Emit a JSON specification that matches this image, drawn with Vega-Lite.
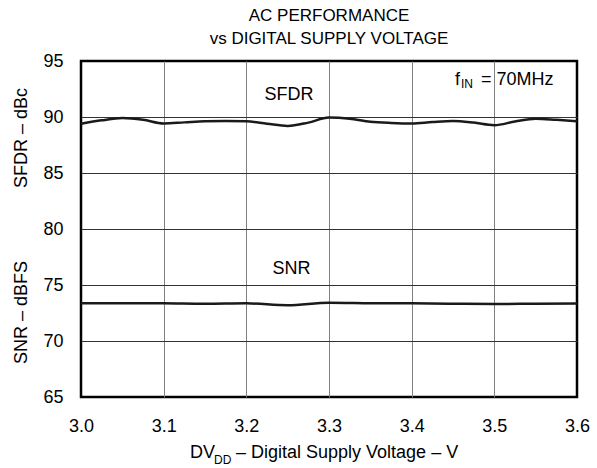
{
  "$schema": "https://vega.github.io/schema/vega-lite/v6.json",
  "autosize": "none",
  "width": 496,
  "height": 336,
  "padding": {"left": 81, "top": 61, "right": 20, "bottom": 71},
  "background": "white",
  "title": {
    "text": ["AC PERFORMANCE", "vs DIGITAL SUPPLY VOLTAGE"],
    "font": "Liberation Sans",
    "fontSize": 17,
    "fontWeight": "normal",
    "color": "black",
    "anchor": "middle",
    "lineHeight": 23,
    "offset": 4
  },
  "config": {
    "view": {"stroke": "black", "strokeWidth": 2.5},
    "axis": {
      "labelFont": "Liberation Sans",
      "labelFontSize": 18,
      "labelColor": "black",
      "labelFlush": false,
      "ticks": false,
      "domain": false,
      "grid": true,
      "title": null
    }
  },
  "datasets": {
    "curves": [
      {"series": "SFDR", "v": 3.000, "db": 89.40},
      {"series": "SFDR", "v": 3.025, "db": 89.70},
      {"series": "SFDR", "v": 3.050, "db": 89.90},
      {"series": "SFDR", "v": 3.075, "db": 89.75},
      {"series": "SFDR", "v": 3.100, "db": 89.42},
      {"series": "SFDR", "v": 3.125, "db": 89.52},
      {"series": "SFDR", "v": 3.150, "db": 89.62},
      {"series": "SFDR", "v": 3.175, "db": 89.64},
      {"series": "SFDR", "v": 3.200, "db": 89.62},
      {"series": "SFDR", "v": 3.225, "db": 89.40},
      {"series": "SFDR", "v": 3.250, "db": 89.20},
      {"series": "SFDR", "v": 3.275, "db": 89.50},
      {"series": "SFDR", "v": 3.300, "db": 89.95},
      {"series": "SFDR", "v": 3.325, "db": 89.85},
      {"series": "SFDR", "v": 3.350, "db": 89.58},
      {"series": "SFDR", "v": 3.375, "db": 89.47},
      {"series": "SFDR", "v": 3.400, "db": 89.42},
      {"series": "SFDR", "v": 3.425, "db": 89.55},
      {"series": "SFDR", "v": 3.450, "db": 89.64},
      {"series": "SFDR", "v": 3.475, "db": 89.50},
      {"series": "SFDR", "v": 3.500, "db": 89.27},
      {"series": "SFDR", "v": 3.525, "db": 89.60},
      {"series": "SFDR", "v": 3.550, "db": 89.85},
      {"series": "SFDR", "v": 3.575, "db": 89.75},
      {"series": "SFDR", "v": 3.600, "db": 89.62},
      {"series": "SNR", "v": 3.00, "db": 73.37},
      {"series": "SNR", "v": 3.05, "db": 73.37},
      {"series": "SNR", "v": 3.10, "db": 73.36},
      {"series": "SNR", "v": 3.15, "db": 73.32},
      {"series": "SNR", "v": 3.20, "db": 73.36},
      {"series": "SNR", "v": 3.25, "db": 73.20},
      {"series": "SNR", "v": 3.30, "db": 73.42},
      {"series": "SNR", "v": 3.35, "db": 73.38},
      {"series": "SNR", "v": 3.40, "db": 73.36},
      {"series": "SNR", "v": 3.45, "db": 73.33},
      {"series": "SNR", "v": 3.50, "db": 73.30},
      {"series": "SNR", "v": 3.55, "db": 73.33},
      {"series": "SNR", "v": 3.60, "db": 73.35}
    ],
    "seriesLabels": [
      {"label": "SFDR", "v": 3.2516, "db": 91.95},
      {"label": "SNR", "v": 3.2546, "db": 76.4}
    ],
    "yTitles": [
      {"label": "SFDR – dBc", "v": 2.9286, "db": 88.12},
      {"label": "SNR – dBFS", "v": 2.9286, "db": 72.54}
    ],
    "mainText": [
      {"label": "f", "v": 3.4524, "db": 92.9},
      {"label": "= 70MHz", "v": 3.4839, "db": 92.9},
      {"label": "DV", "v": 3.1319, "db": 59.55},
      {"label": "– Digital Supply Voltage – V", "v": 3.1875, "db": 59.55}
    ],
    "subText": [
      {"label": "IN", "v": 3.4597, "db": 92.59},
      {"label": "DD", "v": 3.1609, "db": 59.02}
    ]
  },
  "layer": [
    {
      "data": {"name": "curves"},
      "mark": {"type": "line", "interpolate": "monotone", "color": "#1a1a1a", "strokeWidth": 2.5},
      "encoding": {
        "x": {
          "field": "v", "type": "quantitative",
          "scale": {"domain": [3.0, 3.6], "nice": false, "zero": false},
          "axis": {
            "values": [3.0, 3.1, 3.2, 3.3, 3.4, 3.5, 3.6],
            "format": ".1f",
            "labelPadding": 20,
            "gridColor": "#808080",
            "gridWidth": 1,
            "gridOpacity": {"condition": {"test": "datum.value <= 3.0 || datum.value >= 3.6", "value": 0}, "value": 1}
          }
        },
        "y": {
          "field": "db", "type": "quantitative",
          "scale": {"domain": [65, 95], "nice": false, "zero": false},
          "axis": {
            "values": [65, 70, 75, 80, 85, 90, 95],
            "labelPadding": 18,
            "gridColor": "#333333",
            "gridWidth": 1,
            "gridOpacity": {"condition": {"test": "datum.value <= 65 || datum.value >= 95", "value": 0}, "value": 1}
          }
        },
        "detail": {"field": "series"}
      }
    },
    {
      "data": {"name": "seriesLabels"},
      "mark": {"type": "text", "font": "Liberation Sans", "fontSize": 18, "align": "center", "baseline": "middle", "color": "black"},
      "encoding": {
        "x": {"field": "v", "type": "quantitative"},
        "y": {"field": "db", "type": "quantitative"},
        "text": {"field": "label"}
      }
    },
    {
      "data": {"name": "yTitles"},
      "mark": {"type": "text", "font": "Liberation Sans", "fontSize": 18, "align": "center", "baseline": "middle", "angle": 270, "color": "black"},
      "encoding": {
        "x": {"field": "v", "type": "quantitative"},
        "y": {"field": "db", "type": "quantitative"},
        "text": {"field": "label"}
      }
    },
    {
      "data": {"name": "mainText"},
      "mark": {"type": "text", "font": "Liberation Sans", "fontSize": 18, "align": "left", "baseline": "alphabetic", "color": "black"},
      "encoding": {
        "x": {"field": "v", "type": "quantitative"},
        "y": {"field": "db", "type": "quantitative"},
        "text": {"field": "label"}
      }
    },
    {
      "data": {"name": "subText"},
      "mark": {"type": "text", "font": "Liberation Sans", "fontSize": 12, "align": "left", "baseline": "alphabetic", "color": "black"},
      "encoding": {
        "x": {"field": "v", "type": "quantitative"},
        "y": {"field": "db", "type": "quantitative"},
        "text": {"field": "label"}
      }
    }
  ]
}
